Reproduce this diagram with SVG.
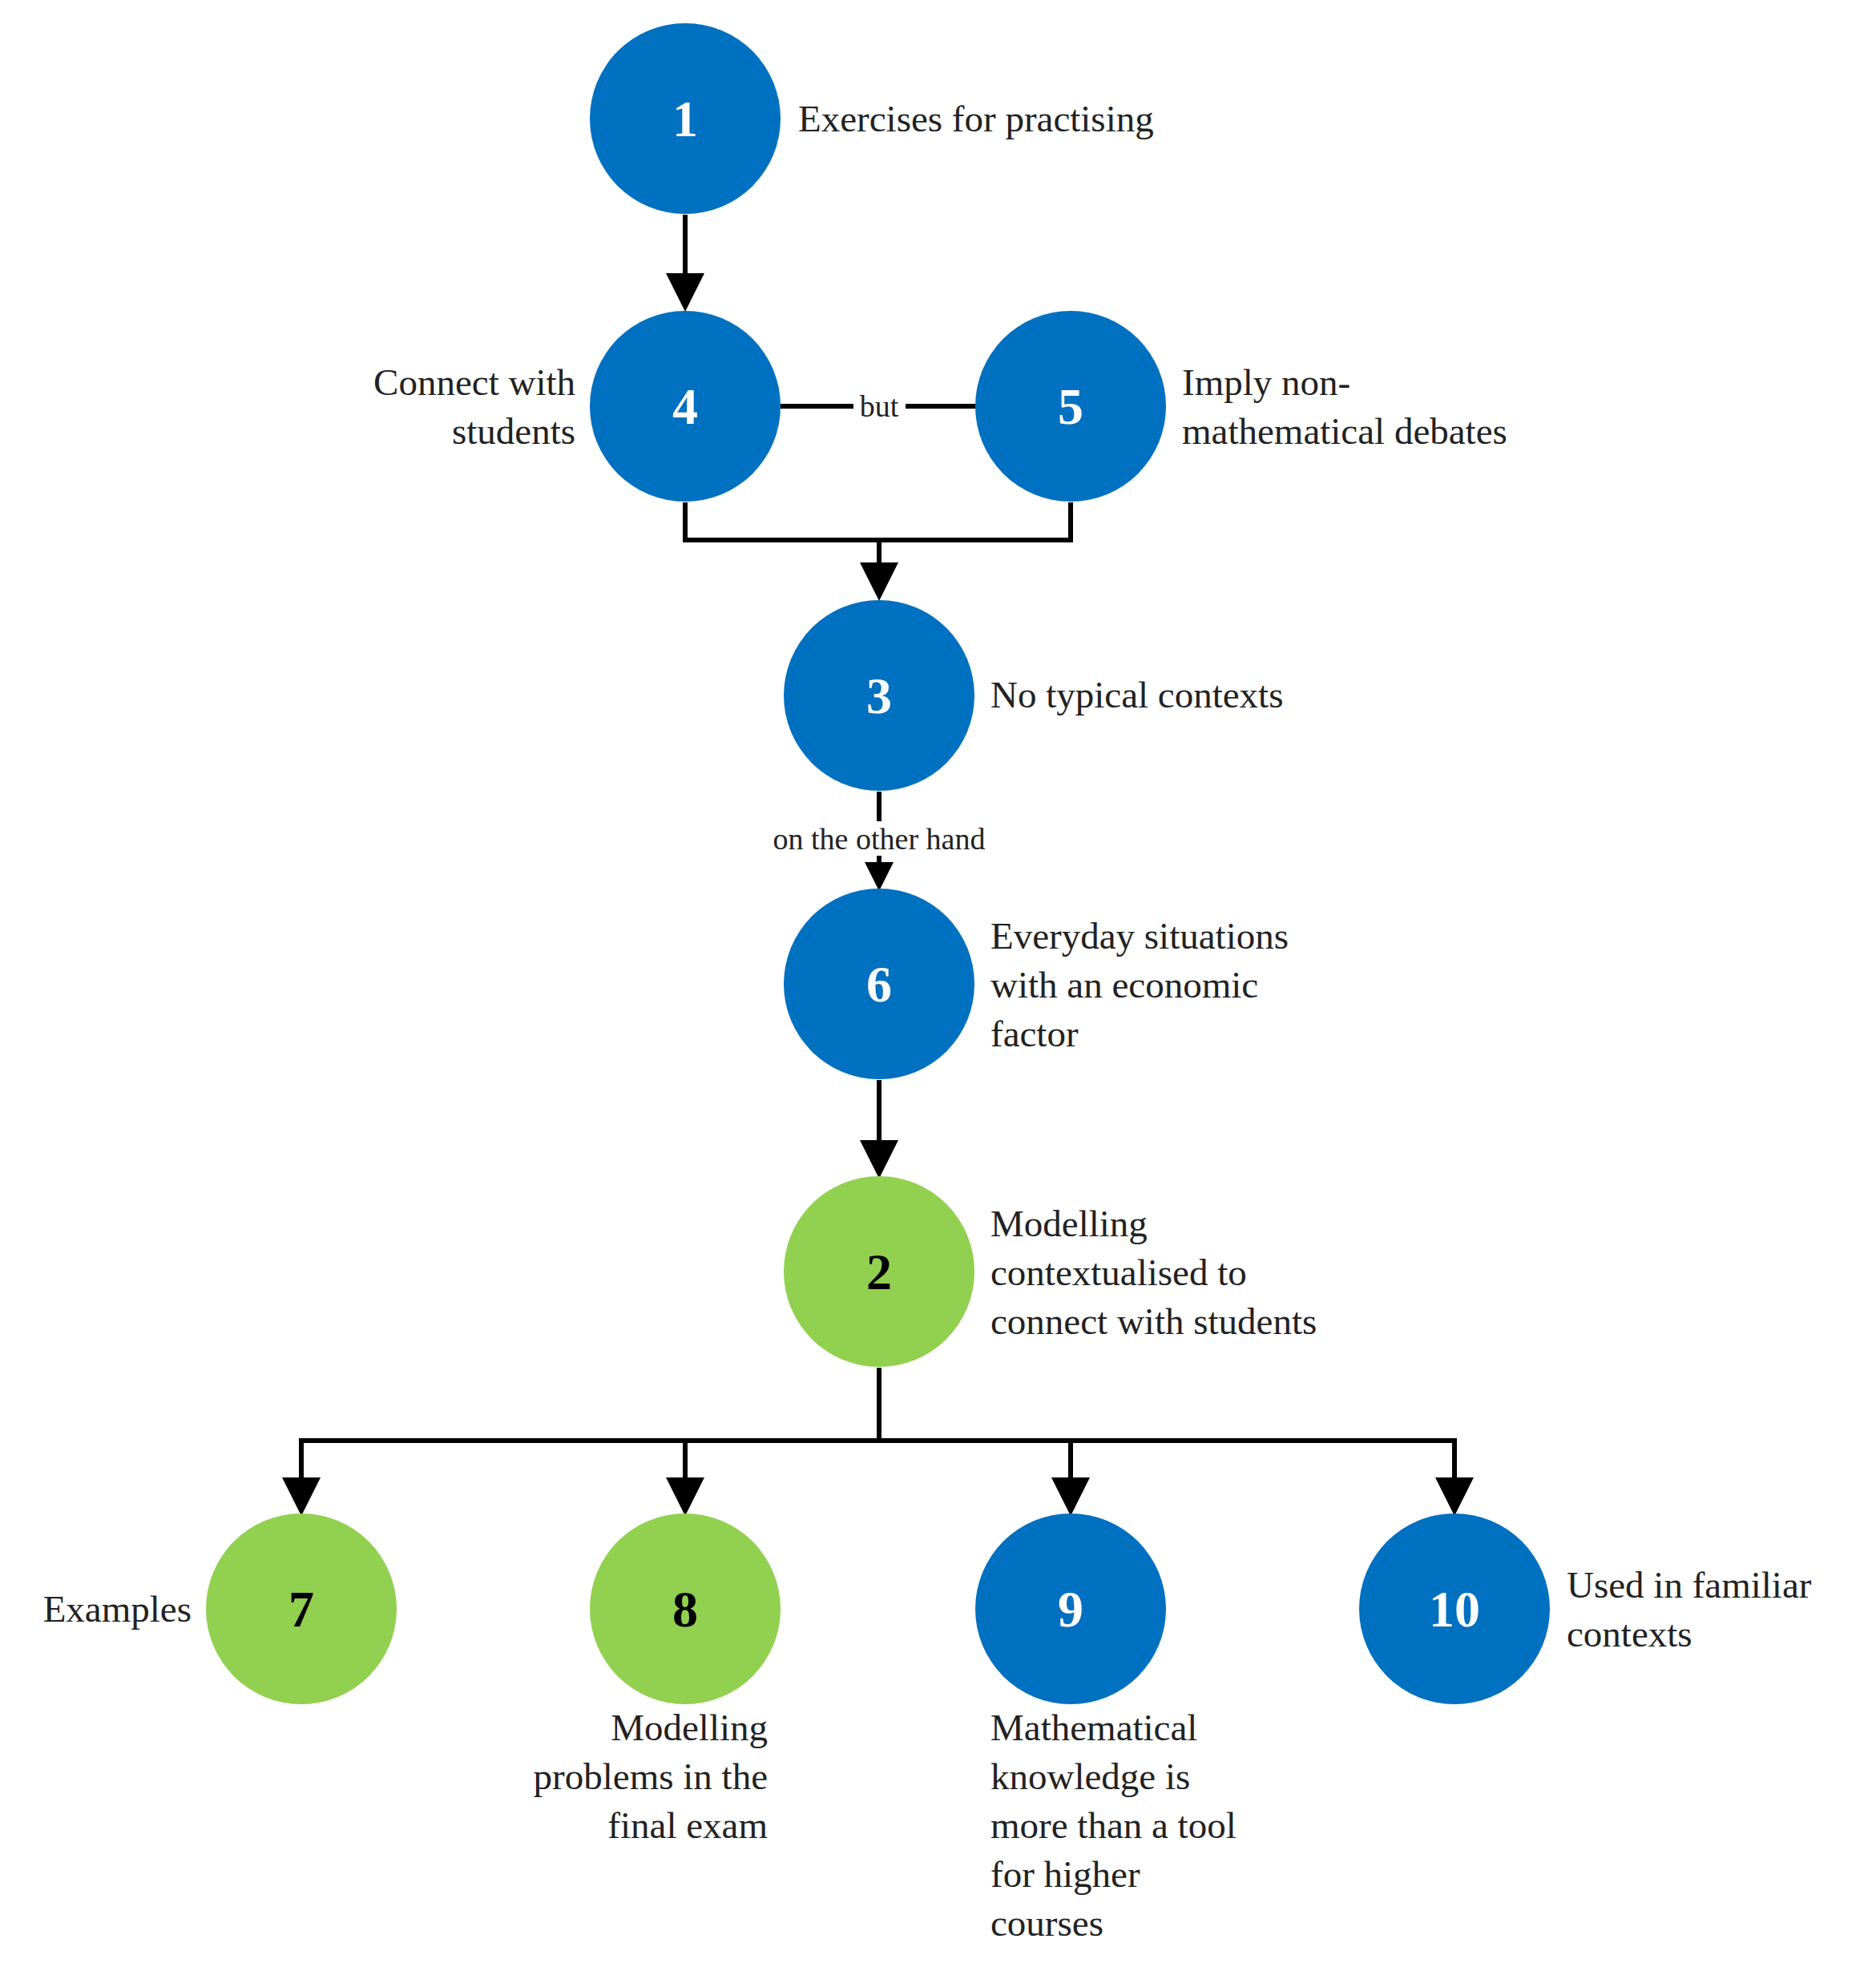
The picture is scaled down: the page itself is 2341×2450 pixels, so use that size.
<svg xmlns="http://www.w3.org/2000/svg" width="2341" height="2450" viewBox="0 0 2341 2450">
<style>
.b{fill:#0070c0}.g{fill:#92d050}
.n{font-family:"Liberation Serif",serif;font-weight:bold;font-size:64px;text-anchor:middle}
.w{fill:#fff}.k{fill:#000}
.t{font-family:"Liberation Serif",serif;font-size:47px;fill:#222}
.r{text-anchor:end}
.s{font-family:"Liberation Serif",serif;font-size:38px;fill:#222;text-anchor:middle}
.c{stroke:#000;stroke-width:6;fill:none}
</style>
<defs><marker id="a" markerWidth="8" markerHeight="8" refX="7" refY="4" orient="auto" markerUnits="strokeWidth"><path d="M0,0 L8,4 L0,8 Z" fill="#000"/></marker>
<marker id="a2" markerWidth="6" markerHeight="6" refX="5" refY="3" orient="auto" markerUnits="strokeWidth"><path d="M0,0 L6,3 L0,6 Z" fill="#000"/></marker></defs>
<g id="connectors">
<line class="c" x1="855" y1="268" x2="855" y2="383" marker-end="url(#a)"/>
<line class="c" x1="974" y1="507" x2="1065" y2="507"/>
<line class="c" x1="1130" y1="507" x2="1217" y2="507"/>
<text class="s" x="1097" y="520">but</text>
<polyline class="c" points="855,627 855,674 1336,674 1336,627"/>
<line class="c" x1="1097" y1="674" x2="1097" y2="744" marker-end="url(#a)"/>
<line class="c" x1="1097" y1="988" x2="1097" y2="1025"/>
<line class="c" x1="1097" y1="1068" x2="1097" y2="1106" marker-end="url(#a2)"/>
<text class="s" x="1097" y="1060">on the other hand</text>
<line class="c" x1="1097" y1="1348" x2="1097" y2="1465" marker-end="url(#a)"/>
<line class="c" x1="1097" y1="1707" x2="1097" y2="1798"/>
<line class="c" x1="373" y1="1798" x2="1818" y2="1798"/>
<line class="c" x1="376" y1="1798" x2="376" y2="1886" marker-end="url(#a)"/>
<line class="c" x1="855" y1="1798" x2="855" y2="1886" marker-end="url(#a)"/>
<line class="c" x1="1336" y1="1798" x2="1336" y2="1886" marker-end="url(#a)"/>
<line class="c" x1="1815" y1="1798" x2="1815" y2="1886" marker-end="url(#a)"/>
</g>
<g id="n1"><circle class="b" cx="855" cy="148" r="119"/><text class="n w" x="855" y="170">1</text><text class="t" x="996" y="164">Exercises for practising</text></g>
<g id="n4"><circle class="b" cx="855" cy="507" r="119"/><text class="n w" x="855" y="529">4</text><text class="t r" x="718" y="493">Connect with</text><text class="t r" x="718" y="554">students</text></g>
<g id="n5"><circle class="b" cx="1336" cy="507" r="119"/><text class="n w" x="1336" y="529">5</text><text class="t" x="1475" y="493">Imply non-</text><text class="t" x="1475" y="554">mathematical debates</text></g>
<g id="n3"><circle class="b" cx="1097" cy="868" r="119"/><text class="n w" x="1097" y="890">3</text><text class="t" x="1236" y="883">No typical contexts</text></g>
<g id="n6"><circle class="b" cx="1097" cy="1228" r="119"/><text class="n w" x="1097" y="1250">6</text><text class="t" x="1236" y="1184">Everyday situations</text><text class="t" x="1236" y="1245">with an economic</text><text class="t" x="1236" y="1306">factor</text></g>
<g id="n2"><circle class="g" cx="1097" cy="1587" r="119"/><text class="n k" x="1097" y="1609">2</text><text class="t" x="1236" y="1543">Modelling</text><text class="t" x="1236" y="1604">contextualised to</text><text class="t" x="1236" y="1665">connect with students</text></g>
<g id="n7"><circle class="g" cx="376" cy="2008" r="119"/><text class="n k" x="376" y="2030">7</text><text class="t r" x="239" y="2024">Examples</text></g>
<g id="n8"><circle class="g" cx="855" cy="2008" r="119"/><text class="n k" x="855" y="2030">8</text><text class="t r" x="958" y="2172">Modelling</text><text class="t r" x="958" y="2233">problems in the</text><text class="t r" x="958" y="2294">final exam</text></g>
<g id="n9"><circle class="b" cx="1336" cy="2008" r="119"/><text class="n w" x="1336" y="2030">9</text><text class="t" x="1236" y="2172">Mathematical</text><text class="t" x="1236" y="2233">knowledge is</text><text class="t" x="1236" y="2294">more than a tool</text><text class="t" x="1236" y="2355">for higher</text><text class="t" x="1236" y="2416">courses</text></g>
<g id="n10"><circle class="b" cx="1815" cy="2008" r="119"/><text class="n w" x="1815" y="2030">10</text><text class="t" x="1955" y="1994">Used in familiar</text><text class="t" x="1955" y="2055">contexts</text></g>
</svg>
